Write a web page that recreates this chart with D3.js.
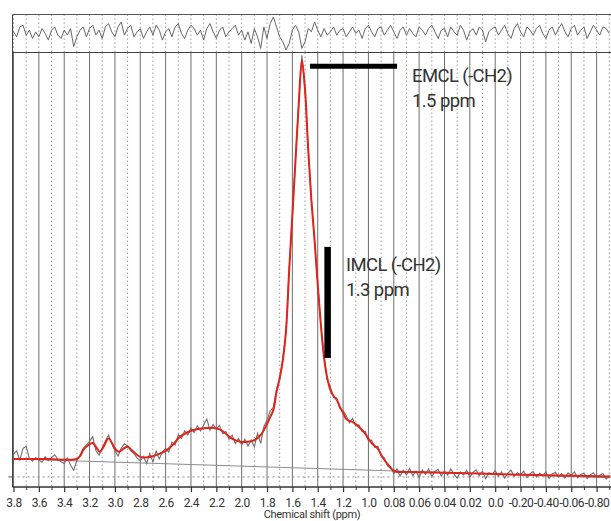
<!DOCTYPE html>
<html><head><meta charset="utf-8">
<script src="https://cdn.jsdelivr.net/npm/d3@7"></script>
<style>body{margin:0;background:#fff} svg{display:block}</style>
</head><body>
<svg id="c" width="611" height="521"></svg>
<script>
// ---- tick values and labels (labels as printed on the original axis) ----
const tickPpm = [3.8,3.6,3.4,3.2,3.0,2.8,2.6,2.4,2.2,2.0,1.8,1.6,1.4,1.2,1.0,0.8,0.6,0.4,0.2,0.0,-0.2,-0.4,-0.6,-0.8];
const tickLabels = ["3.8","3.6","3.4","3.2","3.0","2.8","2.6","2.4","2.2","2.0","1.8","1.6","1.4","1.2","1.0","0.08","0.06","0.04","0.02","0.0","-0.20","-0.40","-0.06","-0.80"];
const axisTitle = "Chemical shift (ppm)";

// ---- fitted spectrum (red) ----
const fitPpm = [3.80,3.55,3.30,3.27,3.25,3.20,3.175,3.15,3.12,3.09,3.05,3.00,2.97,2.93,2.90,2.86,2.80,2.72,2.65,2.59,2.54,2.49,2.43,2.38,2.30,2.22,2.17,2.12,2.07,2.01,1.95,1.90,1.85,1.825,1.80,1.775,1.75,1.725,1.70,1.675,1.65,1.625,1.60,1.575,1.55,1.525,1.50,1.475,1.45,1.425,1.40,1.375,1.35,1.325,1.30,1.275,1.25,1.225,1.20,1.175,1.15,1.125,1.10,1.075,1.05,1.025,1.00,0.975,0.95,0.925,0.90,0.875,0.85,0.825,0.80,0.775,0.70,0.40,0.00,-0.40,-0.91];
const fitValues = [4.3,4.3,4.3,5.2,6.4,7.8,8.1,7.2,6.0,7.2,9.2,6.8,6.0,6.8,7.2,6.2,4.8,4.8,5.5,6.4,7.8,9.5,10.6,11.2,11.6,11.7,11.3,10.2,9.0,8.4,8.4,8.8,10.0,11.2,12.6,14.3,16.0,20.3,23.6,27.9,35.0,49.4,62.5,75.7,88.8,99.5,92.4,78.0,66.0,56.6,45.8,36.3,28.4,23.6,20.8,19.3,18.4,16.7,15.3,13.8,13.4,13.1,12.6,11.9,11.2,10.3,9.1,8.1,7.4,6.7,5.3,4.1,3.1,2.1,1.5,1.2,1.2,1.0,0.7,0.4,0.1];

// ---- baseline (thin grey straight line) ----
const basePpm = [3.8,-0.91];
const baseValues = [4.3,-0.2];

// ---- measured spectrum (grey), sampled every 0.025 ppm from 3.8 down to -0.9 ----
const dataStart = 3.8, dataStep = 0.025;
const dataValues = [
5.5,6.2,4.0,6.8,7.3,4.5,3.8,4.6,
4.0,3.5,4.8,3.9,4.6,5.3,4.2,3.6,
3.2,4.5,2.8,1.6,4.0,5.2,6.9,7.6,
8.5,9.6,6.3,5.2,6.9,8.6,10.0,8.0,
6.2,5.0,6.9,7.9,7.4,6.2,5.6,4.5,
3.8,4.9,3.2,5.6,3.6,6.2,4.3,6.0,
6.8,5.9,8.3,7.6,10.1,9.2,11.0,10.0,
11.6,10.6,12.2,11.0,12.4,13.8,11.2,12.5,
11.4,12.3,10.3,10.8,9.0,10.0,8.0,9.2,
7.6,9.0,7.4,8.8,7.2,10.4,8.0,12.0,
13.5,15.8,16.6,21.0,23.2,28.5,34.5,49.8,
62.0,76.2,89.2,100.6,92.0,78.4,66.3,56.2,
46.2,36.0,28.9,23.2,21.4,19.0,18.8,16.4,
15.8,14.6,12.9,14.0,12.2,12.4,10.8,10.9,
8.6,8.8,7.0,7.3,5.0,4.6,2.6,2.5,
0.8,1.9,0.2,1.6,0.5,2.0,0.3,1.4,
-0.2,1.7,0.6,1.9,0.1,1.3,1.8,0.2,
1.5,0.4,1.9,0.7,-0.3,1.2,0.5,1.6,
0.0,1.1,1.7,0.3,1.4,-0.4,1.0,0.6,
1.5,0.2,1.2,-0.3,0.9,1.6,0.1,1.0,
0.5,1.4,-0.2,0.8,1.3,0.0,0.9,0.3,
1.2,-0.4,0.7,1.1,0.0,0.8,-0.3,1.0,
0.4,1.2,-0.2,0.6,0.9,-0.4,0.5,1.0,
-0.1,0.4,0.8,-0.5,0.3];

// ---- fit residual (top strip), same sampling ----
const residualValues = [
1,-2,4,5,-1,2,-3,1,
-2,3,0,-4,2,4,-1,-3,
2,-1,3,-8,-2,2,4,-2,
3,5,-1,2,-3,4,6,1,
-2,4,7,-1,3,5,-2,1,
3,-3,1,4,-1,5,2,-4,
1,3,-2,4,6,0,-3,2,
5,3,-1,2,-4,3,6,1,
-3,2,4,-2,1,3,5,-1,
2,-4,1,-6,3,-2,-9,4,
-3,6,10,4,-2,-5,-10,-6,
2,5,1,-9,-5,3,1,7,
2,-2,3,-1,1,4,-1,2,
3,-2,1,4,0,2,-3,3,
5,1,-2,3,4,-1,2,5,
1,-3,2,4,-1,3,0,-2,
4,2,-1,3,5,1,-3,2,
3,-2,4,1,-1,5,2,-4,
1,3,-1,4,2,-5,1,3,
4,-1,2,5,0,-3,3,6,
1,-2,4,2,-1,3,5,0,
-3,2,4,-1,3,6,1,-2,
3,5,-1,2,4,-3,1,5,
2,-1,4,3,0];

// ---- annotations ----
const emclBarPpm = [1.461, 0.774], emclBarValue = 98.0;
const imclBarPpm = 1.322, imclBarValues = [28.4, 54.9];
const labelLines = [
  {ppm:0.656, value:94.3, text:"EMCL (-CH2)"},
  {ppm:0.656, value:88.3, text:"1.5 ppm"},
  {ppm:1.177, value:49.2, text:"IMCL (-CH2)"},
  {ppm:1.177, value:43.2, text:"1.3 ppm"}
];

// ================= drawing =================
const W = 611, H = 521;
const FONT = "Roboto,'Liberation Sans',sans-serif";
const svg = d3.select("#c");

const left = 12.5, stripTop = 14.5, stripBottom = 52.5, axisY = 487;
const x = d3.scaleLinear().domain([3.8, -0.8]).range([13.5, 596.6]);
const y = d3.scaleLinear().domain([-2.4, 101.4]).range([axisY, 52]);
const yr = d3.scaleLinear().domain([-11.5, 11.5]).range([stripBottom, stripTop]);

const dataPpm = dataValues.map((_, i) => dataStart - i * dataStep);
const minorPpm = tickPpm.map(t => t - 0.1);

const defs = svg.append("defs");
defs.append("clipPath").attr("id","mainClip").append("rect")
  .attr("x", left).attr("y", stripBottom).attr("width", W - left).attr("height", axisY - stripBottom);
defs.append("clipPath").attr("id","stripClip").append("rect")
  .attr("x", left).attr("y", stripTop).attr("width", W - left).attr("height", stripBottom - stripTop);

// grid – main area
const grid = svg.append("g");
grid.selectAll("line.maj").data(tickPpm).join("line")
  .attr("x1", d => x(d)).attr("x2", d => x(d))
  .attr("y1", stripBottom).attr("y2", axisY)
  .attr("stroke", "#6e6e6e").attr("stroke-width", 1);
grid.selectAll("line.min").data(minorPpm).join("line")
  .attr("x1", d => x(d)).attr("x2", d => x(d))
  .attr("y1", stripBottom).attr("y2", axisY)
  .attr("stroke", "#9a9a9a").attr("stroke-width", 1).attr("stroke-dasharray", "1.5,2.5");
// grid – strip (dotted)
grid.selectAll("line.sg").data(tickPpm.concat(minorPpm)).join("line")
  .attr("x1", d => x(d)).attr("x2", d => x(d))
  .attr("y1", stripTop).attr("y2", stripBottom)
  .attr("stroke", "#a0a0a0").attr("stroke-width", 1).attr("stroke-dasharray", "1.5,2.5");
// horizontal dotted line at zero
grid.append("line").attr("x1", left).attr("x2", W).attr("y1", y(0)).attr("y2", y(0))
  .attr("stroke", "#8a8a8a").attr("stroke-dasharray", "2,3");

// residual
svg.append("path").attr("clip-path","url(#stripClip)")
  .datum(residualValues)
  .attr("d", d3.line().x((d,i) => x(dataPpm[i])).y(d => yr(d)))
  .attr("fill","none").attr("stroke","#666").attr("stroke-width",1);

const main = svg.append("g").attr("clip-path","url(#mainClip)");
// baseline
main.append("path").datum(basePpm.map((p,i)=>[p, baseValues[i]]))
  .attr("d", d3.line().x(d => x(d[0])).y(d => y(d[1])))
  .attr("fill","none").attr("stroke","#8c8c8c").attr("stroke-width",1);
// measured
main.append("path").datum(dataValues)
  .attr("d", d3.line().x((d,i) => x(dataPpm[i])).y(d => y(d)))
  .attr("fill","none").attr("stroke","#6f6f6f").attr("stroke-width",1.1);
// fit
main.append("path").datum(fitPpm.map((p,i)=>[p, fitValues[i]]))
  .attr("d", d3.line().curve(d3.curveCatmullRom.alpha(0.5)).x(d => x(d[0])).y(d => y(d[1])))
  .attr("fill","none").attr("stroke","#e2231a").attr("stroke-width",2);

// frame lines
svg.append("line").attr("x1", left).attr("x2", left).attr("y1", stripTop).attr("y2", axisY)
  .attr("stroke","#444").attr("stroke-width",1);
svg.append("line").attr("x1", left).attr("x2", W).attr("y1", stripTop).attr("y2", stripTop)
  .attr("stroke","#555").attr("stroke-width",1);
svg.append("line").attr("x1", left).attr("x2", W).attr("y1", stripBottom).attr("y2", stripBottom)
  .attr("stroke","#444").attr("stroke-width",1.2);
svg.append("line").attr("x1", left - 4).attr("x2", left).attr("y1", y(0)).attr("y2", y(0))
  .attr("stroke","#444").attr("stroke-width",1);

// axis
const axG = svg.append("g").attr("transform", `translate(0,${axisY})`);
axG.call(d3.axisBottom(x).tickValues(tickPpm).tickFormat((d,i) => tickLabels[i]).tickSize(5).tickPadding(6));
axG.select(".domain").remove();
axG.selectAll(".tick line").attr("stroke","#333").attr("stroke-width",1.2);
axG.selectAll(".tick text").attr("font-family", FONT).attr("font-size", 12).attr("fill","#333")
  .attr("letter-spacing", -0.4);
const axMinor = svg.append("g").attr("transform", `translate(0,${axisY})`);
axMinor.call(d3.axisBottom(x).tickValues(minorPpm).tickFormat("").tickSize(3));
axMinor.select(".domain").remove();
axMinor.selectAll(".tick line").attr("stroke","#333");
svg.append("line").attr("x1", left).attr("x2", W).attr("y1", axisY).attr("y2", axisY)
  .attr("stroke","#333").attr("stroke-width",1.5);
svg.append("text").attr("x", 312).attr("y", 518).attr("text-anchor","middle")
  .attr("font-family", FONT).attr("font-size", 11).attr("letter-spacing", -0.3)
  .attr("fill","#333").text(axisTitle);

// annotation bars
svg.append("line").attr("x1", x(emclBarPpm[0])).attr("x2", x(emclBarPpm[1]))
  .attr("y1", y(emclBarValue)).attr("y2", y(emclBarValue))
  .attr("stroke","#000").attr("stroke-width",5);
svg.append("line").attr("x1", x(imclBarPpm)).attr("x2", x(imclBarPpm))
  .attr("y1", y(imclBarValues[0])).attr("y2", y(imclBarValues[1]))
  .attr("stroke","#000").attr("stroke-width",6.5);
svg.selectAll("text.ann").data(labelLines).join("text")
  .attr("x", d => x(d.ppm)).attr("y", d => y(d.value))
  .attr("font-family", FONT).attr("font-size", 18.5).attr("fill","#333")
  .attr("letter-spacing", -0.6)
  .text(d => d.text);
</script>
</body></html>
